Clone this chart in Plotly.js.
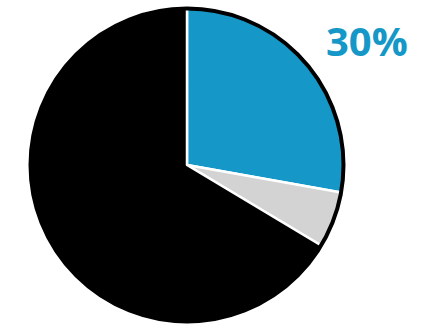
<!DOCTYPE html>
<html><head><meta charset="utf-8">
<script src="https://cdn.plot.ly/plotly-3.0.1.min.js"></script>
<style>html,body{margin:0;padding:0;background:#fff}#c{width:431px;height:324px}</style>
</head><body><div id="c"></div>
<script>
const labels = ["Blue", "Gray", "Black"];
const values = [27.8, 5.8, 66.4];
const colors = ["#1597C7", "#D3D3D3", "#000000"];
const annotationText = "30%";

const W = 431, H = 324;
const cx = 187, cy = 165, R = 158;
const dx0 = (cx - R) / W, dx1 = (cx + R) / W;
const dy0 = (H - cy - R) / H, dy1 = (H - cy + R) / H;

Plotly.newPlot("c", [{
  type: "pie",
  labels: labels,
  values: values,
  sort: false,
  direction: "clockwise",
  rotation: 0,
  textinfo: "none",
  hoverinfo: "none",
  marker: {colors: colors, line: {color: "#ffffff", width: 2.5}},
  domain: {x: [dx0, dx1], y: [dy0, dy1]},
  showlegend: false
}], {
  width: W, height: H,
  margin: {l: 0, r: 0, t: 0, b: 0},
  paper_bgcolor: "#ffffff",
  shapes: [{
    type: "circle", xref: "paper", yref: "paper",
    x0: (cx - R + 1.5) / W, x1: (cx + R - 1.5) / W,
    y0: (H - cy - R + 1.5) / H, y1: (H - cy + R - 1.5) / H,
    line: {color: "#000000", width: 4}
  }],
  annotations: [{
    text: "<b>" + annotationText + "</b>",
    xref: "paper", yref: "paper",
    x: 367 / W, y: (H - 40) / H,
    xanchor: "center", yanchor: "middle",
    showarrow: false,
    font: {family: "Open Sans", size: 40, color: "#1597C7"}
  }]
}, {displayModeBar: false, staticPlot: true});
</script></body></html>
